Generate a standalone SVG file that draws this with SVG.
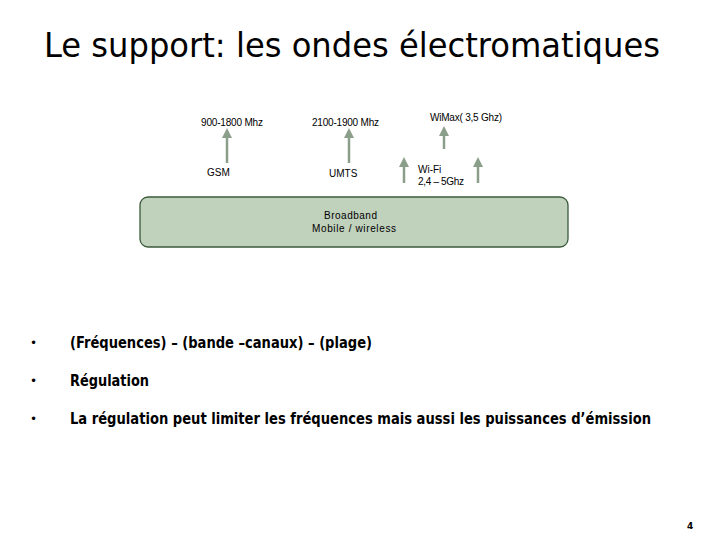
<svg xmlns="http://www.w3.org/2000/svg" width="720" height="540" viewBox="0 0 720 540">
<defs>
<style>
.title{font-family:"DejaVu Sans Condensed","DejaVu Sans",sans-serif;font-size:34px;fill:#000}
.lbl{font-family:"Liberation Sans",Arial,sans-serif;font-size:10px;fill:#000}
.bul{font-family:"DejaVu Sans Condensed","DejaVu Sans",sans-serif;font-size:15px;font-weight:bold;fill:#000}
.dot{font-family:"DejaVu Sans",sans-serif;font-size:12px;fill:#000}
.arr{stroke:#8a9e8a;stroke-width:2.5;fill:none;marker-end:url(#ah)}
</style>
<marker id="ah" markerWidth="4" markerHeight="4" refX="2" refY="2" orient="auto" markerUnits="strokeWidth">
<path d="M0,0 L4,2 L0,4 Z" fill="#8a9e8a"/>
</marker>
</defs>
<rect width="720" height="540" fill="#fff"/>
<text class="title" x="44" y="57" textLength="616" lengthAdjust="spacingAndGlyphs">Le support: les ondes électromatiques</text>
<g id="connectors">
<line class="arr" x1="227" y1="163" x2="227" y2="133"/>
<line class="arr" x1="349" y1="163" x2="349" y2="133"/>
<line class="arr" x1="444" y1="149" x2="444" y2="131"/>
<line class="arr" x1="404" y1="183" x2="404" y2="162"/>
<line class="arr" x1="478" y1="183" x2="478" y2="162"/>
</g>
<g id="gsm-freq"><text class="lbl" x="201" y="126" textLength="62">900-1800 Mhz</text></g>
<g id="umts-freq"><text class="lbl" x="312" y="126" textLength="67">2100-1900 Mhz</text></g>
<g id="gsm"><text class="lbl" x="207" y="176">GSM</text></g>
<g id="umts"><text class="lbl" x="329" y="177">UMTS</text></g>
<g id="wimax"><text class="lbl" x="430" y="121" textLength="72">WiMax( 3,5 Ghz)</text></g>
<g id="wifi"><text class="lbl" x="418" y="173">Wi-Fi</text><text class="lbl" x="418" y="185" textLength="46">2,4 – 5Ghz</text></g>
<g id="broadband">
<rect x="140" y="197" width="428" height="50" rx="8" ry="8" fill="#c0d1bc" stroke="#3b5a3b" stroke-width="1.3"/>
<text class="lbl" x="324" y="219" textLength="53">Broadband</text>
<text class="lbl" x="312" y="232" textLength="84">Mobile / wireless</text>
</g>
<g id="bullets">
<text class="dot" x="30" y="347">•</text>
<text class="bul" x="70" y="348" textLength="302" lengthAdjust="spacingAndGlyphs">(Fréquences) – (bande –canaux) – (plage)</text>
<text class="dot" x="30" y="385">•</text>
<text class="bul" x="70" y="386" textLength="79" lengthAdjust="spacingAndGlyphs">Régulation</text>
<text class="dot" x="30" y="423">•</text>
<text class="bul" x="70" y="424" textLength="581" lengthAdjust="spacingAndGlyphs">La régulation peut limiter les fréquences mais aussi les puissances d’émission</text>
</g>
<text x="687" y="529" font-family="DejaVu Sans,sans-serif" font-size="9" font-weight="bold">4</text>
</svg>
